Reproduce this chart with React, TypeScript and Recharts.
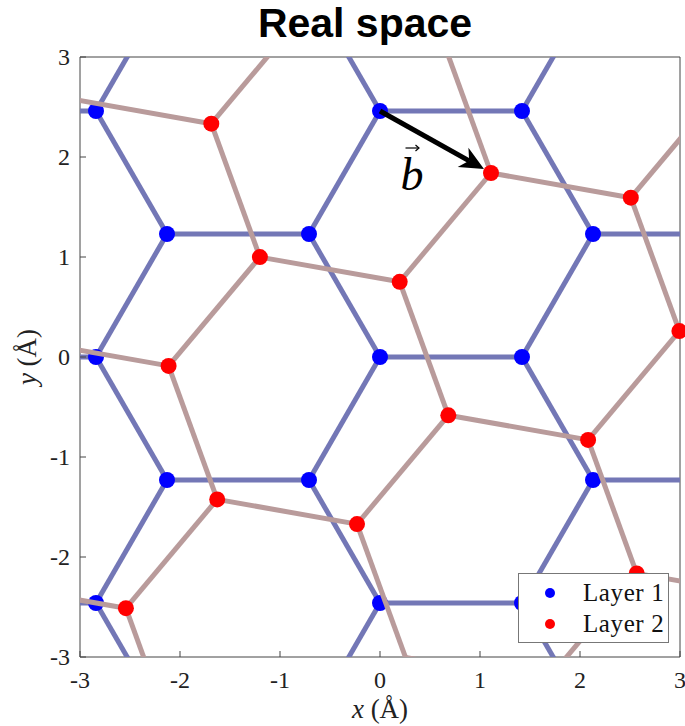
import React from 'react';
import {
  ComposedChart,
  Label,
  Legend,
  ReferenceLine,
  Scatter,
  XAxis,
  YAxis,
} from 'recharts';

// tick values for both axes (Å)
const xTicks = [-3, -2, -1, 0, 1, 2, 3];
const yTicks = [-3, -2, -1, 0, 1, 2, 3];

// layer 1 atoms inside the window
const layer1Atoms = [
  { x: -2.84, y: 2.46 }, { x: 0, y: 2.46 }, { x: 1.42, y: 2.46 },
  { x: -2.13, y: 1.23 }, { x: -0.71, y: 1.23 }, { x: 2.13, y: 1.23 },
  { x: -2.84, y: 0 }, { x: 0, y: 0 }, { x: 1.42, y: 0 },
  { x: -2.13, y: -1.23 }, { x: -0.71, y: -1.23 }, { x: 2.13, y: -1.23 },
  { x: -2.84, y: -2.46 }, { x: 0, y: -2.46 }, { x: 1.42, y: -2.46 },
];

// layer 2 atoms inside the window
const layer2Atoms = [
  { x: -1.687, y: 2.333 }, { x: 1.11, y: 1.84 }, { x: 2.508, y: 1.593 },
  { x: -1.201, y: 0.999 }, { x: 0.197, y: 0.752 }, { x: 2.994, y: 0.259 },
  { x: -2.114, y: -0.089 }, { x: 0.683, y: -0.583 }, { x: 2.081, y: -0.829 },
  { x: -1.628, y: -1.424 }, { x: -0.23, y: -1.671 }, { x: 2.567, y: -2.164 },
  { x: -2.541, y: -2.512 },
];

// bonds [x1, y1, x2, y2]
const layer1Bonds = [
  [-4.26, 2.46, -2.84, 2.46], [0, 2.46, 1.42, 2.46],
  [-4.26, 0, -2.84, 0], [0, 0, 1.42, 0],
  [-4.26, -2.46, -2.84, -2.46], [0, -2.46, 1.42, -2.46],
  [-2.13, 1.23, -0.71, 1.23], [2.13, 1.23, 3.55, 1.23],
  [-2.13, -1.23, -0.71, -1.23], [2.13, -1.23, 3.55, -1.23],
  [0, 2.46, -0.71, 3.69], [0, 2.46, -0.71, 1.23],
  [1.42, 2.46, 2.13, 3.69], [1.42, 2.46, 2.13, 1.23],
  [-2.84, 2.46, -2.13, 3.69], [-2.84, 2.46, -2.13, 1.23],
  [0, 0, -0.71, 1.23], [0, 0, -0.71, -1.23],
  [1.42, 0, 2.13, 1.23], [1.42, 0, 2.13, -1.23],
  [-2.84, 0, -2.13, 1.23], [-2.84, 0, -2.13, -1.23],
  [0, -2.46, -0.71, -1.23], [0, -2.46, -0.71, -3.69],
  [1.42, -2.46, 2.13, -1.23], [1.42, -2.46, 2.13, -3.69],
  [-2.84, -2.46, -2.13, -1.23], [-2.84, -2.46, -2.13, -3.69],
];

const layer2Bonds = [
  [-3.085, 2.58, -1.687, 2.333], [1.11, 1.84, 2.508, 1.593],
  [-3.512, 0.157, -2.114, -0.089], [0.683, -0.583, 2.081, -0.829],
  [-3.94, -2.266, -2.541, -2.512], [0.256, -3.005, 1.654, -3.252],
  [-1.201, 0.999, 0.197, 0.752], [2.994, 0.259, 4.392, 0.012],
  [-1.628, -1.424, -0.23, -1.671], [2.567, -2.164, 3.965, -2.411],
  [1.11, 1.84, 0.624, 3.175], [1.11, 1.84, 0.197, 0.752],
  [0.683, -0.583, 0.197, 0.752], [0.683, -0.583, -0.23, -1.671],
  [0.256, -3.005, -0.23, -1.671],
  [-1.687, 2.333, -0.774, 3.421], [-1.687, 2.333, -1.201, 0.999],
  [-2.114, -0.089, -1.201, 0.999], [-2.114, -0.089, -1.628, -1.424],
  [-2.541, -2.512, -1.628, -1.424], [-2.541, -2.512, -2.056, -3.847],
  [2.508, 1.593, 3.421, 2.682], [2.508, 1.593, 2.994, 0.259],
  [2.081, -0.829, 2.994, 0.259], [2.081, -0.829, 2.567, -2.164],
  [1.654, -3.252, 2.567, -2.164],
];

// shift vector b
const shiftVector = [{ x: 0, y: 2.46 }, { x: 1.11, y: 1.84 }];

const axisColor = '#444';
const serif = '"Liberation Serif", "Times New Roman", serif';
const blueBond = '#7377b6';
const redBond = '#b99b9b';

const dot = (r: number) => (p: any) => (
  <circle cx={p.cx} cy={p.cy} r={r} fill={p.fill} />
);

const bottomTick = (p: any) => (
  <g>
    <line x1={p.x} y1={p.y} x2={p.x} y2={p.y - 6} stroke={axisColor} />
    <text x={p.x} y={p.y + 31} textAnchor="middle" fontFamily={serif} fontSize={24} fill="#222">
      {p.payload.value}
    </text>
  </g>
);
const leftTick = (p: any) => (
  <g>
    <line x1={p.x} y1={p.y} x2={p.x + 6} y2={p.y} stroke={axisColor} />
    <text x={p.x - 10} y={p.y + 8} textAnchor="end" fontFamily={serif} fontSize={24} fill="#222">
      {p.payload.value}
    </text>
  </g>
);
const topTick = (p: any) => (
  <line x1={p.x} y1={p.y} x2={p.x} y2={p.y + 6} stroke={axisColor} />
);
const rightTick = (p: any) => (
  <line x1={p.x} y1={p.y} x2={p.x - 6} y2={p.y} stroke={axisColor} />
);

const arrowShape = (p: any) => {
  const { x1, y1, x2, y2 } = p;
  const dx = x2 - x1;
  const dy = y2 - y1;
  const len = Math.hypot(dx, dy) || 1;
  const ux = dx / len;
  const uy = dy / len;
  const nx = -uy;
  const ny = ux;
  const tx = x2 - ux * 8;
  const ty = y2 - uy * 8;
  const bx = tx - ux * 24;
  const by = ty - uy * 24;
  const nX = tx - ux * 17;
  const nY = ty - uy * 17;
  const pts = [
    [tx, ty],
    [bx + nx * 11, by + ny * 11],
    [nX, nY],
    [bx - nx * 11, by - ny * 11],
  ].map((q) => q.join(',')).join(' ');
  const mx = (x1 + x2) / 2;
  const my = (y1 + y2) / 2;
  return (
    <g>
      <line x1={x1} y1={y1} x2={nX} y2={nY} stroke="#000" strokeWidth={5} />
      <polygon points={pts} fill="#000" />
      <text x={mx - 35} y={my + 48} fontFamily={serif} fontStyle="italic" fontSize={46} fill="#000">
        b
      </text>
      <line x1={mx - 30} y1={my + 6} x2={mx - 17} y2={my + 6} stroke="#000" strokeWidth={1.2} />
      <path d={`M${mx - 20},${my + 3} L${mx - 16.5},${my + 6} L${mx - 20},${my + 9}`} fill="none" stroke="#000" strokeWidth={1.2} />
    </g>
  );
};

const legendContent = (props: any) => (
  <div
    style={{
      width: 151,
      height: 70,
      boxSizing: 'border-box',
      border: '1px solid #777',
      background: '#fff',
      paddingTop: 3,
      fontFamily: serif,
      fontSize: 25,
      color: '#111',
    }}
  >
    {(props.payload || []).map((e: any) => (
      <div key={e.value} style={{ display: 'flex', alignItems: 'center', height: 31 }}>
        <span
          style={{
            display: 'inline-block',
            width: 10,
            height: 10,
            borderRadius: 5,
            background: e.color,
            marginLeft: 26,
            marginRight: 28,
          }}
        />
        <span style={{ letterSpacing: 0.6 }}>{e.value}</span>
      </div>
    ))}
  </div>
);

export default function App() {
  return (
    <div style={{ position: 'absolute', left: 0, top: 0, width: 685, height: 726, background: '#fff' }}>
      <ComposedChart width={685} height={726} margin={{ top: 0, right: 0, bottom: 0, left: 0 }}>
        <XAxis
          dataKey="x"
          type="number"
          domain={[-3, 3]}
          ticks={xTicks}
          interval={0}
          height={69}
          tickSize={0}
          tickMargin={0}
          tickLine={false}
          tick={bottomTick}
          axisLine={{ stroke: axisColor }}
        >
          <Label
            content={(p: any) => (
              <text
                x={p.viewBox.x + p.viewBox.width / 2}
                y={p.viewBox.y + 61}
                textAnchor="middle"
                fontFamily={serif}
                fontSize={27}
                fill="#222"
              >
                <tspan fontStyle="italic">x</tspan> (Å)
              </text>
            )}
          />
        </XAxis>
        <XAxis
          xAxisId="top"
          orientation="top"
          type="number"
          domain={[-3, 3]}
          ticks={xTicks}
          interval={0}
          height={57}
          tickSize={0}
          tickMargin={0}
          tickLine={false}
          tick={topTick}
          axisLine={{ stroke: axisColor }}
        >
          <Label
            content={() => (
              <text
                x={365}
                y={37}
                textAnchor="middle"
                fontFamily='"Liberation Sans", Arial, sans-serif'
                fontWeight="bold"
                fontSize={41}
                fill="#000"
              >
                Real space
              </text>
            )}
          />
        </XAxis>
        <YAxis
          dataKey="y"
          type="number"
          domain={[-3, 3]}
          ticks={yTicks}
          interval={0}
          width={80}
          tickSize={0}
          tickMargin={0}
          tickLine={false}
          tick={leftTick}
          axisLine={{ stroke: axisColor }}
        >
          <Label
            content={(p: any) => {
              const cy = p.viewBox.y + p.viewBox.height / 2;
              return (
                <text
                  x={36}
                  y={cy}
                  textAnchor="middle"
                  transform={`rotate(-90, 36, ${cy})`}
                  fontFamily={serif}
                  fontSize={27}
                  fill="#222"
                >
                  <tspan fontStyle="italic">y</tspan> (Å)
                </text>
              );
            }}
          />
        </YAxis>
        <YAxis
          yAxisId="right"
          orientation="right"
          type="number"
          domain={[-3, 3]}
          ticks={yTicks}
          interval={0}
          width={5}
          tickSize={0}
          tickMargin={0}
          tickLine={false}
          tick={rightTick}
          axisLine={{ stroke: axisColor }}
        />

        {layer1Bonds.map((b, i) => (
          <ReferenceLine
            key={`l1-${i}`}
            segment={[{ x: b[0], y: b[1] }, { x: b[2], y: b[3] }]}
            stroke={blueBond}
            strokeWidth={5}
            ifOverflow="hidden"
            zIndex={601}
          />
        ))}
        <Scatter
          name="Layer 1"
          data={layer1Atoms}
          fill="#0000ff"
          shape={dot(8)}
          isAnimationActive={false}
          zIndex={602}
        />
        {layer2Bonds.map((b, i) => (
          <ReferenceLine
            key={`l2-${i}`}
            segment={[{ x: b[0], y: b[1] }, { x: b[2], y: b[3] }]}
            stroke={redBond}
            strokeWidth={5}
            ifOverflow="hidden"
            zIndex={603}
          />
        ))}
        <Scatter
          name="Layer 2"
          data={layer2Atoms}
          fill="#ff0000"
          shape={dot(8)}
          isAnimationActive={false}
          zIndex={604}
        />
        <ReferenceLine
          segment={shiftVector}
          shape={arrowShape}
          ifOverflow="visible"
          zIndex={605}
        />
        <Legend
          layout="vertical"
          align="center"
          verticalAlign="middle"
          content={legendContent}
          wrapperStyle={{ left: 518, top: 573, width: 151, height: 70 }}
        />
      </ComposedChart>
    </div>
  );
}
